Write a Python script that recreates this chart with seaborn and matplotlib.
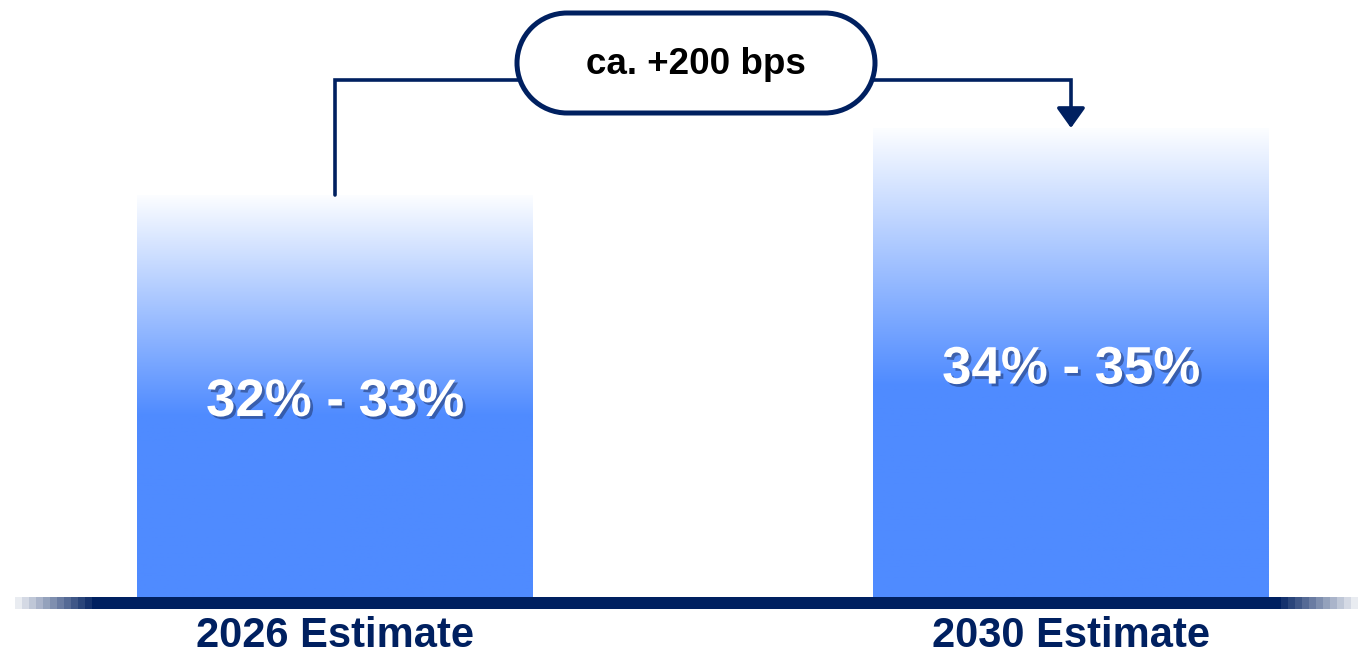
import numpy as np
import pandas as pd
import seaborn as sns
import matplotlib.pyplot as plt
import matplotlib.patheffects as pe
from matplotlib.colors import to_rgb
from matplotlib.path import Path
from matplotlib.patches import PathPatch

# margin outlook: 2026 vs 2030 estimate, shown as ranges

categories = ['2026 Estimate', '2030 Estimate']
margin_mid = [32.5, 34.5]
range_labels = ['32% - 33%', '34% - 35%']
change_label = 'ca. +200 bps'

NAVY = '#002060'
BLUE = '#4F8BFF'

sns.set_theme(style='white')
plt.rcParams['font.family'] = ['Liberation Sans', 'DejaVu Sans']

fig = plt.figure(figsize=(13.72, 6.57), dpi=100)
ax = fig.add_axes([0, 60 / 657, 1, 597 / 657])

df = pd.DataFrame({'category': categories, 'margin': margin_mid})
sns.barplot(data=df, x='category', y='margin', color=BLUE, width=0.538,
            saturation=1, ax=ax)

# axis does not start at zero - bars are cut at this floor
floor = 20.5
px_per_unit = 33.5

# vertical white -> blue gradient inside each bar
blue = np.array(to_rgb(BLUE))
t = np.linspace(0, 1, 300)
mix = np.clip(t / 0.55, 0, 1)[:, None]
grad = ((1 - mix) * np.array([0.99, 0.995, 1.0]) + mix * blue)[:, None, :]
for patch in ax.patches:
    x0, w, top = patch.get_x(), patch.get_width(), patch.get_height()
    im = ax.imshow(grad, extent=[x0, x0 + w, floor, top], origin='upper',
                   aspect='auto', zorder=2)
    im.set_clip_path(patch)
    patch.set_facecolor('none')
    patch.set_linewidth(0)

# range labels inside the bars
for i, (val, lbl) in enumerate(zip(margin_mid, range_labels)):
    ax.text(i, floor + 0.485 * (val - floor), lbl, ha='center', va='center',
            color='white', fontsize=38, fontweight='bold', zorder=6,
            path_effects=[pe.withSimplePatchShadow(offset=(2, -2),
                                                   shadow_rgbFace='#1b2d5c',
                                                   alpha=0.5)])

# baseline strip with stepped fade at both ends
navy = np.array(to_rgb(NAVY))
n_px, fade = 1342, 77
alpha = np.ones(n_px)
alpha[:fade] = (np.arange(fade) // 7 + 1) / 12
alpha[-fade:] = alpha[:fade][::-1]
strip = (1 - alpha)[:, None] + alpha[:, None] * navy
ax.imshow(strip[None, :, :], extent=[-0.435, 1.389, floor - 12 / px_per_unit, floor],
          aspect='auto', interpolation='nearest', clip_on=False, zorder=3)

# connector from bar 1 over to bar 2
bracket_y = 35.93
ax.plot([0, 0, 1, 1], [margin_mid[0], bracket_y, bracket_y, margin_mid[1] + 0.5],
        color=NAVY, lw=2.6, solid_joinstyle='miter', zorder=4)
ax.annotate('', xy=(1, margin_mid[1]), xytext=(1, margin_mid[1] + 0.55),
            arrowprops=dict(arrowstyle='-|>,head_length=0.42,head_width=0.3',
                            mutation_scale=29, color=NAVY, lw=2.6,
                            shrinkA=0, shrinkB=0),
            zorder=4)

# pill-shaped bubble (inches), semicircle ends
bx0, bx1, by0, by1 = 5.17, 8.75, 5.44, 6.44
r = (by1 - by0) / 2
yc = by0 + r
right = Path.arc(-90, 90)
left = Path.arc(90, 270)
verts = np.vstack([right.vertices * r + [bx1 - r, yc],
                   left.vertices * r + [bx0 + r, yc],
                   [[bx1 - r, by0]]])
codes = np.concatenate([right.codes, [Path.LINETO], left.codes[1:], [Path.CLOSEPOLY]])
bubble = PathPatch(Path(verts, codes), transform=fig.dpi_scale_trans,
                   facecolor='white', edgecolor=NAVY, linewidth=3.6,
                   zorder=5, clip_on=False)
ax.add_patch(bubble)
ax.text((bx0 + bx1) / 2, 5.92, change_label, transform=fig.dpi_scale_trans,
        ha='center', va='center', fontsize=26.5, fontweight='bold',
        color='black', zorder=6)

ax.set_xlim(-0.455, 1.409)
ax.set_ylim(floor, floor + 597 / px_per_unit)
ax.set_xlabel('')
ax.set_ylabel('')
ax.set_yticks([])
ax.tick_params(axis='x', length=0, pad=14, labelsize=30, labelcolor=NAVY)
for lbl in ax.get_xticklabels():
    lbl.set_fontweight('bold')
sns.despine(ax=ax, left=True, bottom=True)

fig.savefig('out.png', dpi=100)
